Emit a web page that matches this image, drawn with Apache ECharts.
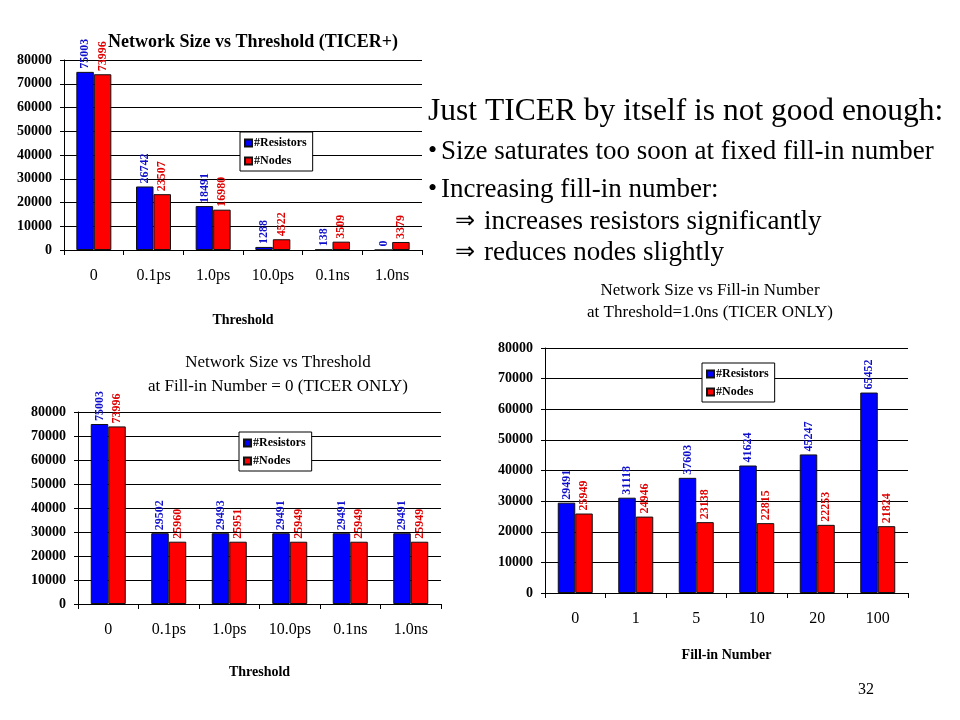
<!DOCTYPE html>
<html>
<head>
<meta charset="utf-8">
<script src="https://cdn.jsdelivr.net/npm/echarts@6/dist/echarts.min.js"></script>
<style>
html,body{margin:0;padding:0;background:#fff;}
#main{width:960px;height:720px;}
</style>
</head>
<body>
<div id="main"></div>
<script>
// ---- data ----
var thresholdCats = ['0', '0.1ps', '1.0ps', '10.0ps', '0.1ns', '1.0ns'];
var ticerPlusResistors = [75003, 26742, 18491, 1288, 138, 0];
var ticerPlusNodes = [73996, 23507, 16980, 4522, 3509, 3379];

var ticerOnlyResistors = [75003, 29502, 29493, 29491, 29491, 29491];
var ticerOnlyNodes = [73996, 25960, 25951, 25949, 25949, 25949];

var fillInCats = ['0', '1', '5', '10', '20', '100'];
var fillInResistors = [29491, 31118, 37603, 41624, 45247, 65452];
var fillInNodes = [25949, 24946, 23138, 22815, 22253, 21824];

var yTicks = [0, 10000, 20000, 30000, 40000, 50000, 60000, 70000, 80000];

var seriesNames = ['#Resistors', '#Nodes'];

// ---- styling ----
var SERIF = "'Times New Roman', 'Liberation Serif', serif";
var BLUE = '#0000FF', RED = '#FF0000';
var BLUE_LBL = '#1010CC', RED_LBL = '#E00000';

function xAxis(idx, cats, name, nameGap) {
  return {
    type: 'category', gridIndex: idx, data: cats,
    name: name, nameLocation: 'middle', nameGap: nameGap,
    nameTextStyle: {fontFamily: SERIF, fontWeight: 'bold', fontSize: 14, color: '#000'},
    axisLine: {lineStyle: {color: '#000', width: 1}},
    axisTick: {show: true, length: 5, lineStyle: {color: '#000'}},
    axisLabel: {fontFamily: SERIF, fontSize: 16, color: '#000', margin: 18, interval: 0},
    splitLine: {show: false}
  };
}
function yAxis(idx) {
  return {
    type: 'value', gridIndex: idx, min: yTicks[0], max: yTicks[yTicks.length - 1],
    interval: yTicks[1] - yTicks[0],
    axisLine: {show: true, lineStyle: {color: '#000', width: 1}},
    axisTick: {show: true, length: 4, lineStyle: {color: '#000'}},
    axisLabel: {fontFamily: SERIF, fontWeight: 'bold', fontSize: 14, color: '#000', margin: 12,
      formatter: function (v) { return String(v); }},
    splitLine: {show: true, lineStyle: {color: '#000', width: 1}}
  };
}
function bar(idx, name, data, color, lblColor) {
  return {
    type: 'bar', name: name, xAxisIndex: idx, yAxisIndex: idx, data: data,
    barWidth: 17.5, barGap: '0%',
    itemStyle: {color: color, borderColor: '#111', borderWidth: 1},
    label: {
      show: true, position: 'top', rotate: 90, align: 'left', verticalAlign: 'middle',
      distance: 3, color: lblColor, fontFamily: SERIF, fontWeight: 'bold', fontSize: 12
    },
    animation: false
  };
}
function legend(left, top) {
  return {
    data: seriesNames, left: left, top: top, orient: 'vertical',
    padding: [5, 6, 4, 4], itemGap: 6, itemWidth: 7, itemHeight: 7,
    icon: 'rect', borderColor: '#000', borderWidth: 1, backgroundColor: '#fff',
    textStyle: {fontFamily: SERIF, fontWeight: 'bold', fontSize: 12, color: '#000', padding: [0, 0, 0, -3]},
    selectedMode: false
  };
}
function txt(x, y, s, size, opts) {
  opts = opts || {};
  return {
    type: 'text', x: x, y: y, silent: true,
    style: {
      text: s, fontFamily: SERIF, fontSize: size, fill: '#000',
      fontWeight: opts.bold ? 'bold' : 'normal',
      textAlign: opts.align || 'left', textVerticalAlign: 'middle',
      lineHeight: opts.lh || size
    }
  };
}

var chart = echarts.init(document.getElementById('main'), null, {renderer: 'canvas'});
chart.setOption({
  backgroundColor: '#fff',
  animation: false,
  grid: [
    {left: 64, top: 60, width: 358, height: 190},
    {left: 78, top: 412, width: 363, height: 192},
    {left: 545, top: 348, width: 363, height: 245}
  ],
  xAxis: [
    xAxis(0, thresholdCats, 'Threshold', 63),
    xAxis(1, thresholdCats, 'Threshold', 61),
    xAxis(2, fillInCats, 'Fill-in Number', 55)
  ],
  yAxis: [yAxis(0), yAxis(1), yAxis(2)],
  legend: [legend(240, 132), legend(239, 432), legend(702, 363)],
  series: [
    bar(0, seriesNames[0], ticerPlusResistors, BLUE, BLUE_LBL),
    bar(0, seriesNames[1], ticerPlusNodes, RED, RED_LBL),
    bar(1, seriesNames[0], ticerOnlyResistors, BLUE, BLUE_LBL),
    bar(1, seriesNames[1], ticerOnlyNodes, RED, RED_LBL),
    bar(2, seriesNames[0], fillInResistors, BLUE, BLUE_LBL),
    bar(2, seriesNames[1], fillInNodes, RED, RED_LBL)
  ],
  graphic: [
    txt(253, 42, 'Network Size vs Threshold (TICER+)', 18, {bold: true, align: 'center'}),
    txt(278, 375, 'Network Size vs Threshold\nat Fill-in Number = 0 (TICER ONLY)', 17, {align: 'center', lh: 24}),
    txt(710, 302, 'Network Size vs Fill-in Number\nat Threshold=1.0ns (TICER ONLY)', 17, {align: 'center', lh: 22}),
    txt(428, 112, 'Just TICER by itself is not good enough:', 31.5),
    txt(428, 151, '\u2022', 26),
    txt(441, 152, 'Size saturates too soon at fixed fill-in number', 27),
    txt(428, 189, '\u2022', 26),
    txt(441, 190, 'Increasing fill-in number:', 27),
    txt(455, 222, '\u21D2', 24),
    txt(484, 222, 'increases resistors significantly', 27),
    txt(455, 253, '\u21D2', 24),
    txt(484, 253, 'reduces nodes slightly', 27),
    txt(866, 690, '32', 16, {align: 'center'})
  ]
});
</script>
</body>
</html>
